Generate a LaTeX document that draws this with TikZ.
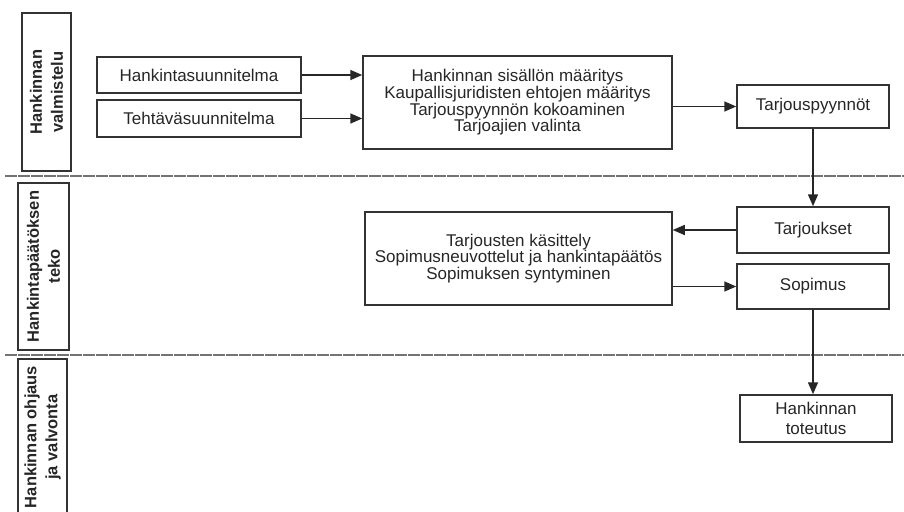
\documentclass[tikz,border=0pt]{standalone}
\usepackage{fontspec}
\setmainfont{Liberation Sans}
\usetikzlibrary{arrows.meta}
\tikzstyle{every node}=[text=black!85]
\tikzstyle{lane}=[draw=black!80, line width=1.5pt, rotate=90, align=center, inner sep=0pt, font=\bfseries\fontsize{16.5}{21}\selectfont]

\begin{document}
\begin{tikzpicture}[x=1pt, y=-1pt,
    box/.style={draw=black!80, line width=1.5pt, align=center, inner sep=0pt, font=\fontsize{17}{16.7}\selectfont},
    sep/.style={draw=black!55, line width=1.1pt, dash pattern=on 12pt off 1pt},
    arr/.style={draw=black!85, line width=1.6pt, -{Triangle[length=12pt,width=10pt]}}]

\useasboundingbox (0,0) rectangle (904,511);
\clip (0,0) rectangle (904,511);

% vaiheet
\node[lane, minimum width=158pt, minimum height=49pt] (l1) at (46.5,92) {Hankinnan\\valmistelu};
\node[lane, minimum width=167pt, minimum height=51pt] (l2) at (43.5,266.5) {Hankintapäätöksen\\teko};
\node[lane, minimum width=156pt, minimum height=49pt] (l3) at (42.5,437) {Hankinnan ohjaus\\ja valvonta};
\draw[sep] (5,176) -- (904,176);
\draw[sep] (5,355) -- (904,355);

% valmistelu
\node[box, minimum width=204pt, minimum height=36pt] (a1) at (199,75) {Hankintasuunnitelma};
\node[box, minimum width=204pt, minimum height=37pt] (a2) at (199,118.5) {Tehtäväsuunnitelma};
\node[box, minimum width=309pt, minimum height=93pt] (m1) at (517.5,102.5) {Hankinnan sisällön määritys\\Kaupallisjuridisten ehtojen määritys\\Tarjouspyynnön kokoaminen\\Tarjoajien valinta};
\node[box, minimum width=152pt, minimum height=43pt] (t1) at (813,106.5) {Tarjouspyynnöt};

% päätös
\node[box, minimum width=152pt, minimum height=46pt] (t2) at (813,230) {Tarjoukset};
\node[box, minimum width=152pt, minimum height=45pt] (t3) at (813,286.5) {Sopimus};
\node[box, minimum width=307pt, minimum height=93pt] (m2) at (518.5,258.5) {Tarjousten käsittely\\Sopimusneuvottelut ja hankintapäätös\\Sopimuksen syntyminen};

% toteutus
\node[box, minimum width=152pt, minimum height=47pt, font=\fontsize{17}{19.5}\selectfont] (t4) at (816,418.5) {Hankinnan\\toteutus};

\draw[arr] (a1.east) -- (a1.east -| m1.west);
\draw[arr] (a2.east) -- (a2.east -| m1.west);
\draw[arr] (m1.east |- t1.west) -- (t1.west);
\draw[arr] (t1.south) -- (t2.north);
\draw[arr] (t2.west) -- (t2.west -| m2.east);
\draw[arr] (m2.east |- t3.west) -- (t3.west);
\draw[arr] (t3.south) -- (t3.south |- t4.north);
\end{tikzpicture}
\end{document}
